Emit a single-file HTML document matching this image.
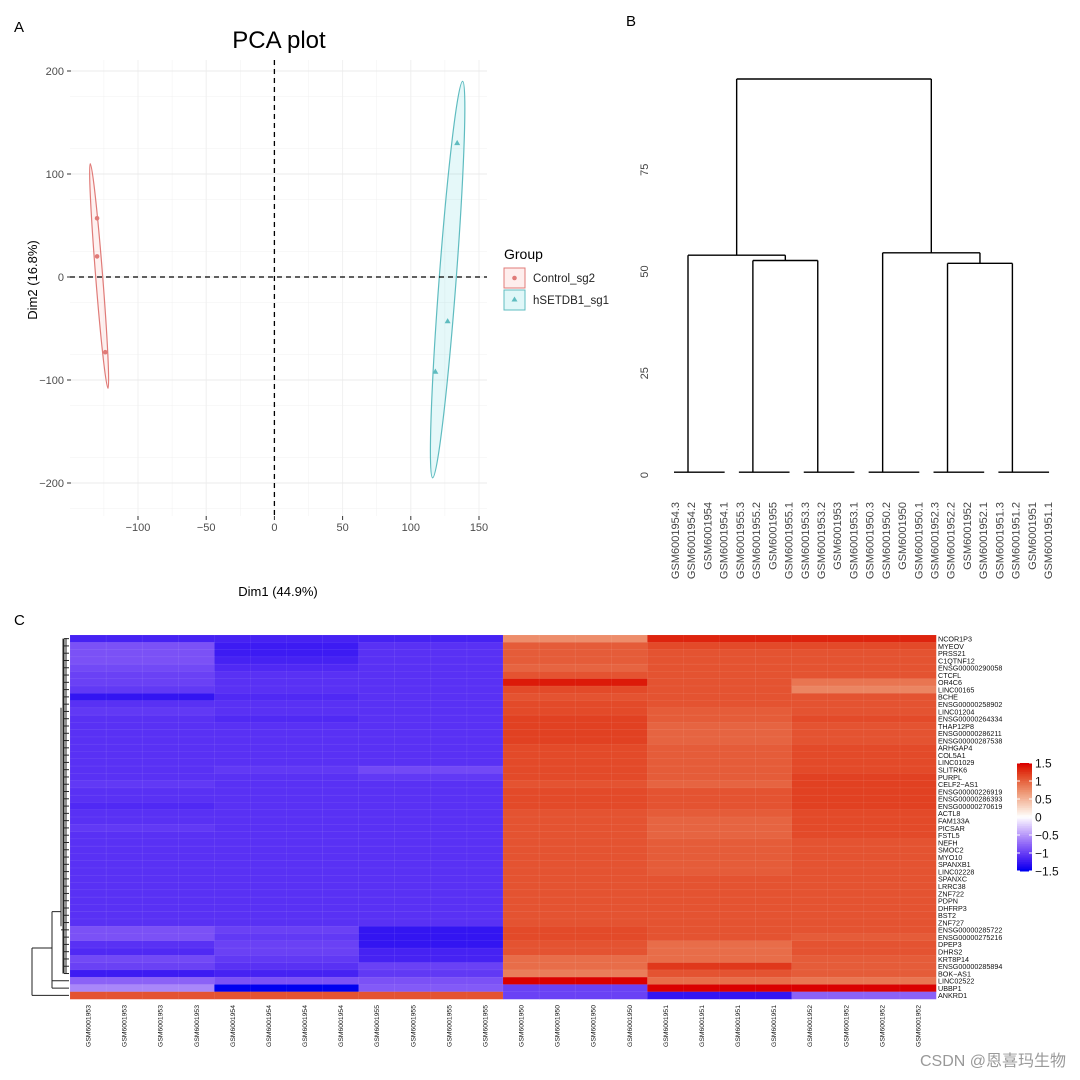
<!DOCTYPE html>
<html><head><meta charset="utf-8"><style>
body{margin:0;background:#fff;}
svg{display:block;font-family:"Liberation Sans","Noto Sans CJK SC",sans-serif;}
</style></head><body>
<svg id="fig" width="1080" height="1080" viewBox="0 0 1080 1080">
<rect width="1080" height="1080" fill="#fff"/>
<text x="14" y="32" font-size="15">A</text>
<text x="626" y="26" font-size="15">B</text>
<text x="14" y="625" font-size="15">C</text>
<g id="pca"></g>
<g id="dend"></g>
<g id="heat"></g>
<text x="1066" y="1066" font-size="16" fill="#999" text-anchor="end">CSDN @恩喜玛生物</text>
</svg>
<script>
const NS="http://www.w3.org/2000/svg";
function mk(parent,tag,attrs,txt){const e=document.createElementNS(NS,tag);for(const k in attrs)e.setAttribute(k,attrs[k]);if(txt!==undefined)e.textContent=txt;parent.appendChild(e);return e;}

/* ---------- PCA data ---------- */
const pcaXTicks=[-100,-50,0,50,100,150];
const pcaYTicks=[-200,-100,0,100,200];
const ctrlX=[-130,-130,-124];
const ctrlY=[57,20,-73];
const trtX=[134,127,118];
const trtY=[130,-43,-92];
const ctrlEllipseEnds=[[-135,110],[-122,-108]];
const trtEllipseEnds=[[116,-195],[138,190]];

const px=v=>274.4+1.364*v, py=v=>277-1.03*v;
const pca=document.getElementById('pca');
for(let v=-125;v<=150;v+=25){const g=mk(pca,'line',{x1:px(v),x2:px(v),y1:60,y2:516,stroke:'#f0f0f0','stroke-width':(v%50===0)?1:0.5});
}
for(let v=-225;v<=200;v+=50){const g=mk(pca,'line',{x1:70,x2:487,y1:py(v),y2:py(v),stroke:'#f0f0f0','stroke-width':0.5});
}
pcaYTicks.forEach(v=>{const l=mk(pca,'line',{x1:70,x2:487,y1:py(v),y2:py(v),stroke:'#ebebeb','stroke-width':1});

const t=mk(pca,'line',{x1:67,x2:71,y1:py(v),y2:py(v),stroke:'#333'});
const tx=mk(pca,'text',{x:64,y:py(v)+4,'font-size':11,fill:'#4d4d4d','text-anchor':'end'},v<0?'\u2212'+(-v):String(v));
});
pcaXTicks.forEach(v=>{const t=mk(pca,'line',{x1:px(v),x2:px(v),y1:516,y2:520,stroke:'#333'});
const tx=mk(pca,'text',{x:px(v),y:513+18,'font-size':11,fill:'#4d4d4d','text-anchor':'middle'},v<0?'\u2212'+(-v):String(v));
});
function ell(ends,half,stroke,fill){const a=[px(ends[0][0]),py(ends[0][1])],b=[px(ends[1][0]),py(ends[1][1])];
const cx=(a[0]+b[0])/2,cy=(a[1]+b[1])/2,len=Math.hypot(b[0]-a[0],b[1]-a[1])/2,ang=Math.atan2(b[1]-a[1],b[0]-a[0])*180/Math.PI;
const e=mk(pca,'ellipse',{cx:cx,cy:cy,rx:len,ry:half,transform:`rotate(${ang} ${cx} ${cy})`,stroke:stroke,fill:fill,'stroke-width':1.2});
return e;}
ell(ctrlEllipseEnds,3.5,'#e07b78','rgba(248,118,109,0.1)');
ell(trtEllipseEnds,8.5,'#5fbcc0','rgba(0,191,196,0.1)');
const hx=mk(pca,'line',{x1:70,x2:487,y1:py(0),y2:py(0),stroke:'#000','stroke-dasharray':'5,4','stroke-width':1.3});

const vx=mk(pca,'line',{x1:px(0),x2:px(0),y1:60,y2:516,stroke:'#000','stroke-dasharray':'5,4','stroke-width':1.3});

ctrlX.forEach((x,i)=>{const c=mk(pca,'circle',{cx:px(x),cy:py(ctrlY[i]),r:2.3,fill:'#e07b78'});
});
trtX.forEach((x,i)=>{const X=px(x),Y=py(trtY[i]);const p=mk(pca,'polygon',{points:`${X},${Y-3.2} ${X-3},${Y+2} ${X+3},${Y+2}`,fill:'#5fbcc0'});
});
let t;
t=mk(pca,'text',{x:279,y:48,'font-size':24,'text-anchor':'middle'},'PCA plot');
t=mk(pca,'text',{x:278,y:596,'font-size':13,'text-anchor':'middle'},'Dim1 (44.9%)');
t=mk(pca,'text',{x:37,y:280,'font-size':13,'text-anchor':'middle',transform:'rotate(-90 37 280)'},'Dim2 (16.8%)');
t=mk(pca,'text',{x:504,y:259,'font-size':14},'Group');
let r=mk(pca,'rect',{x:504,y:268,width:21,height:20,fill:'rgba(248,118,109,0.12)',stroke:'#e07b78'});
mk(pca,'circle',{cx:514.5,cy:278,r:2.3,fill:'#e07b78'});
t=mk(pca,'text',{x:533,y:282,'font-size':11.5,fill:'#222'},'Control_sg2');
r=mk(pca,'rect',{x:504,y:290,width:21,height:20,fill:'rgba(0,191,196,0.12)',stroke:'#5fbcc0'});
mk(pca,'polygon',{points:'514.5,296.5 511.5,301.5 517.5,301.5',fill:'#5fbcc0'});
t=mk(pca,'text',{x:533,y:304,'font-size':11.5,fill:'#222'},'hSETDB1_sg1');

/* ---------- Dendrogram data ---------- */
const leafLabels=['GSM6001954.3','GSM6001954.2','GSM6001954','GSM6001954.1','GSM6001955.3','GSM6001955.2','GSM6001955','GSM6001955.1','GSM6001953.3','GSM6001953.2','GSM6001953','GSM6001953.1','GSM6001950.3','GSM6001950.2','GSM6001950','GSM6001950.1','GSM6001952.3','GSM6001952.2','GSM6001952','GSM6001952.1','GSM6001951.3','GSM6001951.2','GSM6001951','GSM6001951.1'];
const groupHeight=[0.7,0.7,0.7,0.7,0.7,0.7];
const dendTicks=[0,25,50,75];
const joinLeftInner=52.7, joinLeft=54.0, joinRightInner=52.0, joinRight=54.6, joinRoot=97.3;

const dx=i=>675+16.22*i, dy=h=>475-4.07*h;
const dend=document.getElementById('dend');
function seg(x1,y1,x2,y2,name){const l=mk(dend,'line',{x1,y1,x2,y2,stroke:'#000','stroke-width':1.4});}
dendTicks.forEach(v=>{const tx=mk(dend,'text',{x:648,y:dy(v),'font-size':11,fill:'#444','text-anchor':'middle',transform:`rotate(-90 648 ${dy(v)})`},String(v));
});
const gx=[];
for(let g=0;g<6;g++){seg(dx(4*g)-1,dy(groupHeight[g]),dx(4*g+3)+1,dy(groupHeight[g]),'leaf-group-bar');gx.push(dx(4*g)+13);}
leafLabels.forEach((s,i)=>{const X=dx(i)+4,Y=502;const tx=mk(dend,'text',{x:X,y:Y,'font-size':11,fill:'#444','text-anchor':'end',transform:`rotate(-90 ${X} ${Y})`},s);
});
function join(xa,ha,xb,hb,h){seg(xa,dy(ha),xa,dy(h),'branch');seg(xb,dy(hb),xb,dy(h),'branch');seg(xa,dy(h),xb,dy(h),'branch');return (xa+xb)/2;}
const mL1=join(gx[1],groupHeight[1],gx[2],groupHeight[2],joinLeftInner);
const mL=join(gx[0],groupHeight[0],mL1,joinLeftInner,joinLeft);
const mR1=join(gx[4],groupHeight[4],gx[5],groupHeight[5],joinRightInner);
const mR=join(gx[3],groupHeight[3],mR1,joinRightInner,joinRight);
join(mL,joinLeft,mR,joinRight,joinRoot);

/* ---------- Heatmap data ---------- */
const genes=['NCOR1P3','MYEOV','PRSS21','C1QTNF12','ENSG00000290058','CTCFL','OR4C6','LINC00165','BCHE','ENSG00000258902','LINC01204','ENSG00000264334','THAP12P8','ENSG00000286211','ENSG00000287538','ARHGAP4','COL5A1','LINC01029','SLITRK6','PURPL','CELF2\u2212AS1','ENSG00000226919','ENSG00000286393','ENSG00000270619','ACTL8','FAM133A','PICSAR','FSTL5','NEFH','SMOC2','MYO10','SPANXB1','LINC02228','SPANXC','LRRC38','ZNF722','PDPN','DHFRP3','BST2','ZNF727','ENSG00000285722','ENSG00000275216','DPEP3','DHRS2','KRT8P14','ENSG00000285894','BOK\u2212AS1','LINC02522','UBBP1','ANKRD1'];
const sampleGroups=['GSM6001953','GSM6001954','GSM6001955','GSM6001950','GSM6001951','GSM6001952'];
const valsG1953=[-1.2,-0.9,-0.9,-0.9,-0.95,-1.0,-1.0,-1.05,-1.3,-1.1,-1.05,-1.1,-1.1,-1.1,-1.1,-1.1,-1.1,-1.1,-1.1,-1.1,-1.05,-1.1,-1.1,-1.15,-1.1,-1.1,-1.05,-1.1,-1.1,-1.1,-1.1,-1.1,-1.1,-1.1,-1.1,-1.1,-1.1,-1.1,-1.1,-1.1,-0.9,-0.9,-1.1,-1.15,-0.95,-1.0,-1.25,-0.8,-0.6,1.1];
const valsG1954=[-1.2,-1.25,-1.25,-1.2,-1.15,-1.1,-1.1,-1.1,-1.15,-1.1,-1.1,-1.15,-1.1,-1.1,-1.1,-1.1,-1.1,-1.1,-1.05,-1.1,-1.1,-1.1,-1.1,-1.1,-1.1,-1.1,-1.1,-1.1,-1.1,-1.1,-1.1,-1.1,-1.1,-1.1,-1.1,-1.1,-1.1,-1.1,-1.1,-1.1,-1.0,-1.05,-1.0,-1.0,-1.05,-1.1,-1.2,-0.9,-1.5,1.1];
const valsG1955=[-1.2,-1.1,-1.1,-1.1,-1.1,-1.1,-1.1,-1.1,-1.1,-1.1,-1.1,-1.1,-1.1,-1.1,-1.1,-1.1,-1.1,-1.1,-0.95,-1.05,-1.1,-1.1,-1.1,-1.1,-1.1,-1.1,-1.1,-1.1,-1.1,-1.1,-1.1,-1.1,-1.1,-1.1,-1.1,-1.1,-1.1,-1.1,-1.1,-1.1,-1.3,-1.3,-1.3,-1.2,-1.2,-1.0,-1.05,-0.9,-0.85,1.1];
const valsG1950=[0.75,1.05,1.05,1.05,1.0,1.1,1.4,1.15,1.1,1.15,1.15,1.2,1.2,1.2,1.2,1.15,1.15,1.15,1.15,1.15,1.1,1.15,1.15,1.15,1.1,1.1,1.1,1.1,1.1,1.1,1.1,1.1,1.1,1.1,1.1,1.1,1.1,1.1,1.1,1.1,1.15,1.15,1.1,1.1,0.95,0.95,0.85,1.5,-1.0,-1.0];
const valsG1951=[1.35,1.15,1.1,1.1,1.1,1.1,1.1,1.1,1.1,1.1,1.05,1.05,1.0,1.0,1.0,1.05,1.05,1.05,1.05,1.05,1.0,1.1,1.1,1.1,1.05,1.0,1.0,1.0,1.05,1.05,1.05,1.05,1.05,1.1,1.1,1.1,1.1,1.1,1.1,1.1,1.1,1.1,0.95,0.95,0.95,1.25,1.1,0.95,1.5,-1.3];
const valsG1952=[1.35,1.15,1.1,1.1,1.1,1.1,0.9,0.8,1.1,1.1,1.1,1.15,1.1,1.1,1.1,1.15,1.15,1.15,1.15,1.2,1.2,1.2,1.2,1.2,1.15,1.15,1.15,1.15,1.1,1.1,1.1,1.1,1.1,1.1,1.1,1.1,1.1,1.1,1.1,1.1,1.1,1.05,1.1,1.1,1.05,1.05,1.05,0.9,1.5,-0.8];
const legendTicks=[1.5,1,0.5,0,-0.5,-1,-1.5];

const heat=document.getElementById('heat');
const HX0=70,HX1=936,HY0=635,HY1=999,nCol=24,nRow=genes.length;
const cw=(HX1-HX0)/nCol,rh=(HY1-HY0)/nRow;
const hxp=c=>HX0+c*cw, hyp=r=>HY0+r*rh;
function col(v){v=Math.max(-1.5,Math.min(1.5,v));let r,g,b;
if(v<0){const f=-v/1.5,q=1-f;r=255*Math.pow(q,0.8);g=255*Math.pow(q,1.25);b=255-15*f;}
else{const f=v/1.5,q=1-f;r=255-37*f;g=255*Math.pow(q,0.85);b=255*Math.pow(q,1.25);}
return `rgb(${Math.round(r)},${Math.round(g)},${Math.round(b)})`;}
const groupVals=[valsG1953,valsG1954,valsG1955,valsG1950,valsG1951,valsG1952];
for(let r=0;r<nRow;r++){for(let c=0;c<nCol;c++){const v=groupVals[Math.floor(c/4)][r];
const cell=mk(heat,'rect',{x:hxp(c),y:hyp(r),width:cw+0.3,height:rh+0.3,fill:col(v),stroke:'rgba(255,255,255,0.12)','stroke-width':0.5});
}
const gl=mk(heat,'text',{x:938,y:hyp(r)+rh-0.8,'font-size':7.2,fill:'#111'},genes[r]);
}
for(let c=0;c<nCol;c++){const X=hxp(c)+cw/2+2.5,Y=1005;
const sl=mk(heat,'text',{x:X,y:Y,'font-size':6.8,fill:'#111','text-anchor':'end',transform:`rotate(-90 ${X} ${Y})`},sampleGroups[Math.floor(c/4)]);
}
function rl(x1,y1,x2,y2){const l=mk(heat,'line',{x1,y1,x2,y2,stroke:'#222','stroke-width':1});}
for(let r=0;r<47;r++){rl(64,hyp(r)+rh/2,69,hyp(r)+rh/2);}
rl(64,hyp(0)+rh/2,64,hyp(46)+rh/2);rl(66,hyp(0)+3,66,hyp(46)+rh/2);
rl(63,hyp(0)+rh/2,63,hyp(46)+rh/2);rl(61,hyp(10),61,hyp(40));
rl(61,hyp(40)+rh/2,63,hyp(40)+rh/2);
rl(52,hyp(47)+rh/2,69,hyp(47)+rh/2);rl(52,hyp(48)+rh/2,69,hyp(48)+rh/2);rl(52,hyp(38),52,hyp(48)+rh/2);rl(52,hyp(38),61,hyp(38));
rl(32,hyp(49)+rh/2,69,hyp(49)+rh/2);rl(32,hyp(43),32,hyp(49)+rh/2);rl(32,hyp(43),52,hyp(43));
const LX=1017,LY0=763,LY1=871;
for(let i=0;i<60;i++){const v=1.5-3*i/59;const s=mk(heat,'rect',{x:LX,y:LY0+(LY1-LY0)*i/60,width:15,height:(LY1-LY0)/60+0.5,fill:col(v)});
}
legendTicks.forEach(v=>{const Y=LY0+(1.5-v)/3*(LY1-LY0);
mk(heat,'line',{x1:LX,x2:LX+3,y1:Y,y2:Y,stroke:'#fff'});mk(heat,'line',{x1:LX+12,x2:LX+15,y1:Y,y2:Y,stroke:'#fff'});
const tx=mk(heat,'text',{x:LX+18,y:Y+4.5,'font-size':12,fill:'#111'},v<0?'\u2212'+(-v):String(v));
});
</script>
</body></html>
